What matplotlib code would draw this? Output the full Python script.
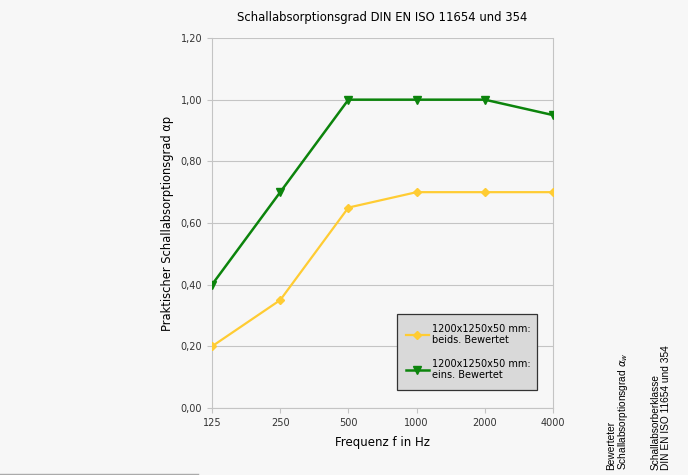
import matplotlib
matplotlib.use("Agg")
import matplotlib.pyplot as plt
from matplotlib.lines import Line2D
from matplotlib.patches import Rectangle

categories = ["125", "250", "500", "1000", "2000", "4000"]
beids = [0.20, 0.35, 0.65, 0.70, 0.70, 0.70]
eins = [0.40, 0.70, 1.00, 1.00, 1.00, 0.95]
yticks = [0.0, 0.2, 0.4, 0.6, 0.8, 1.0, 1.2]
ytick_labels = ["0,00", "0,20", "0,40", "0,60", "0,80", "1,00", "1,20"]
label_beids = "1200x1250x50 mm:\nbeids. Bewertet"
label_eins = "1200x1250x50 mm:\neins. Bewertet"

plt.rcParams['font.family'] = ['DejaVu Sans']
W, H = 688, 475
fig = plt.figure(figsize=(W / 100, H / 100), dpi=100)
fig.patch.set_facecolor("#f7f7f7")

L, R, T, B = 212, 553, 38, 408
ax = fig.add_axes([L / W, 1 - B / H, (R - L) / W, (B - T) / H])
ax.set_facecolor("#f7f7f7")
x = list(range(len(categories)))
yellow = "#ffcc33"
green = "#0c840c"
ax.plot(x, beids, color=yellow, lw=1.6, marker="D", ms=4, label=label_beids, zorder=3)
ax.plot(x, eins, color=green, lw=1.8, marker="v", ms=6, label=label_eins, zorder=3)

ax.set_xlim(0, len(categories) - 1)
ax.set_ylim(0, 1.2)
ax.set_xticks(x)
ax.set_xticklabels(categories, fontsize=7, color="#333333")
ax.set_yticks(yticks)
ax.set_yticklabels(ytick_labels, fontsize=7, color="#333333")
ax.grid(axis="y", color="#c4c4c4", lw=0.8)
for s in ["left", "bottom", "right", "top"]:
    ax.spines[s].set_color("#c4c4c4")
    ax.spines[s].set_linewidth(0.8)
ax.spines["top"].set_visible(False)
ax.tick_params(axis="both", color="#c4c4c4", length=3.5, width=0.8, pad=3.5)

ax.set_xlabel("Frequenz f in Hz", fontsize=8.5, labelpad=6)
ax.set_ylabel("Praktischer Schallabsorptionsgrad αp", fontsize=8.3, labelpad=5)
fig.text((L + R) / 2 / W, 1 - 18 / H, "Schallabsorptionsgrad DIN EN ISO 11654 und 354",
         ha="center", va="center", fontsize=8.4)

# legend box
lx0, lx1, ly0, ly1 = 397, 537, 314, 390
fig.add_artist(Rectangle((lx0 / W, 1 - ly1 / H), (lx1 - lx0) / W, (ly1 - ly0) / H,
                         transform=fig.transFigure, facecolor="#d9d9d9",
                         edgecolor="#333333", lw=0.9, zorder=4))
leg = fig.legend(loc="center left", bbox_to_anchor=(lx0 / W, 1 - (ly0 + ly1) / 2 / H),
                 fontsize=7, frameon=False, labelspacing=1.4, handlelength=2.4,
                 handletextpad=0.3, borderpad=0.4)
leg.set_zorder(5)

fig.text(618 / W, 1 - 470 / H, "Bewerteter\nSchallabsorptionsgrad $\\alpha_w$", rotation=90,
         ha="center", va="bottom", multialignment="left", fontsize=7.3,
         linespacing=1.0, family="Liberation Sans")
fig.text(661 / W, 1 - 470 / H, "Schallabsorberklasse\nDIN EN ISO 11654 und 354", rotation=90,
         ha="center", va="bottom", multialignment="left", fontsize=7.3,
         linespacing=1.0, family="Liberation Sans")

fig.add_artist(Line2D([0, 198 / W], [1 - 473.5 / H, 1 - 473.5 / H], color="#aaaaaa", lw=1))

fig.savefig("out.png", dpi=100, facecolor=fig.get_facecolor())
